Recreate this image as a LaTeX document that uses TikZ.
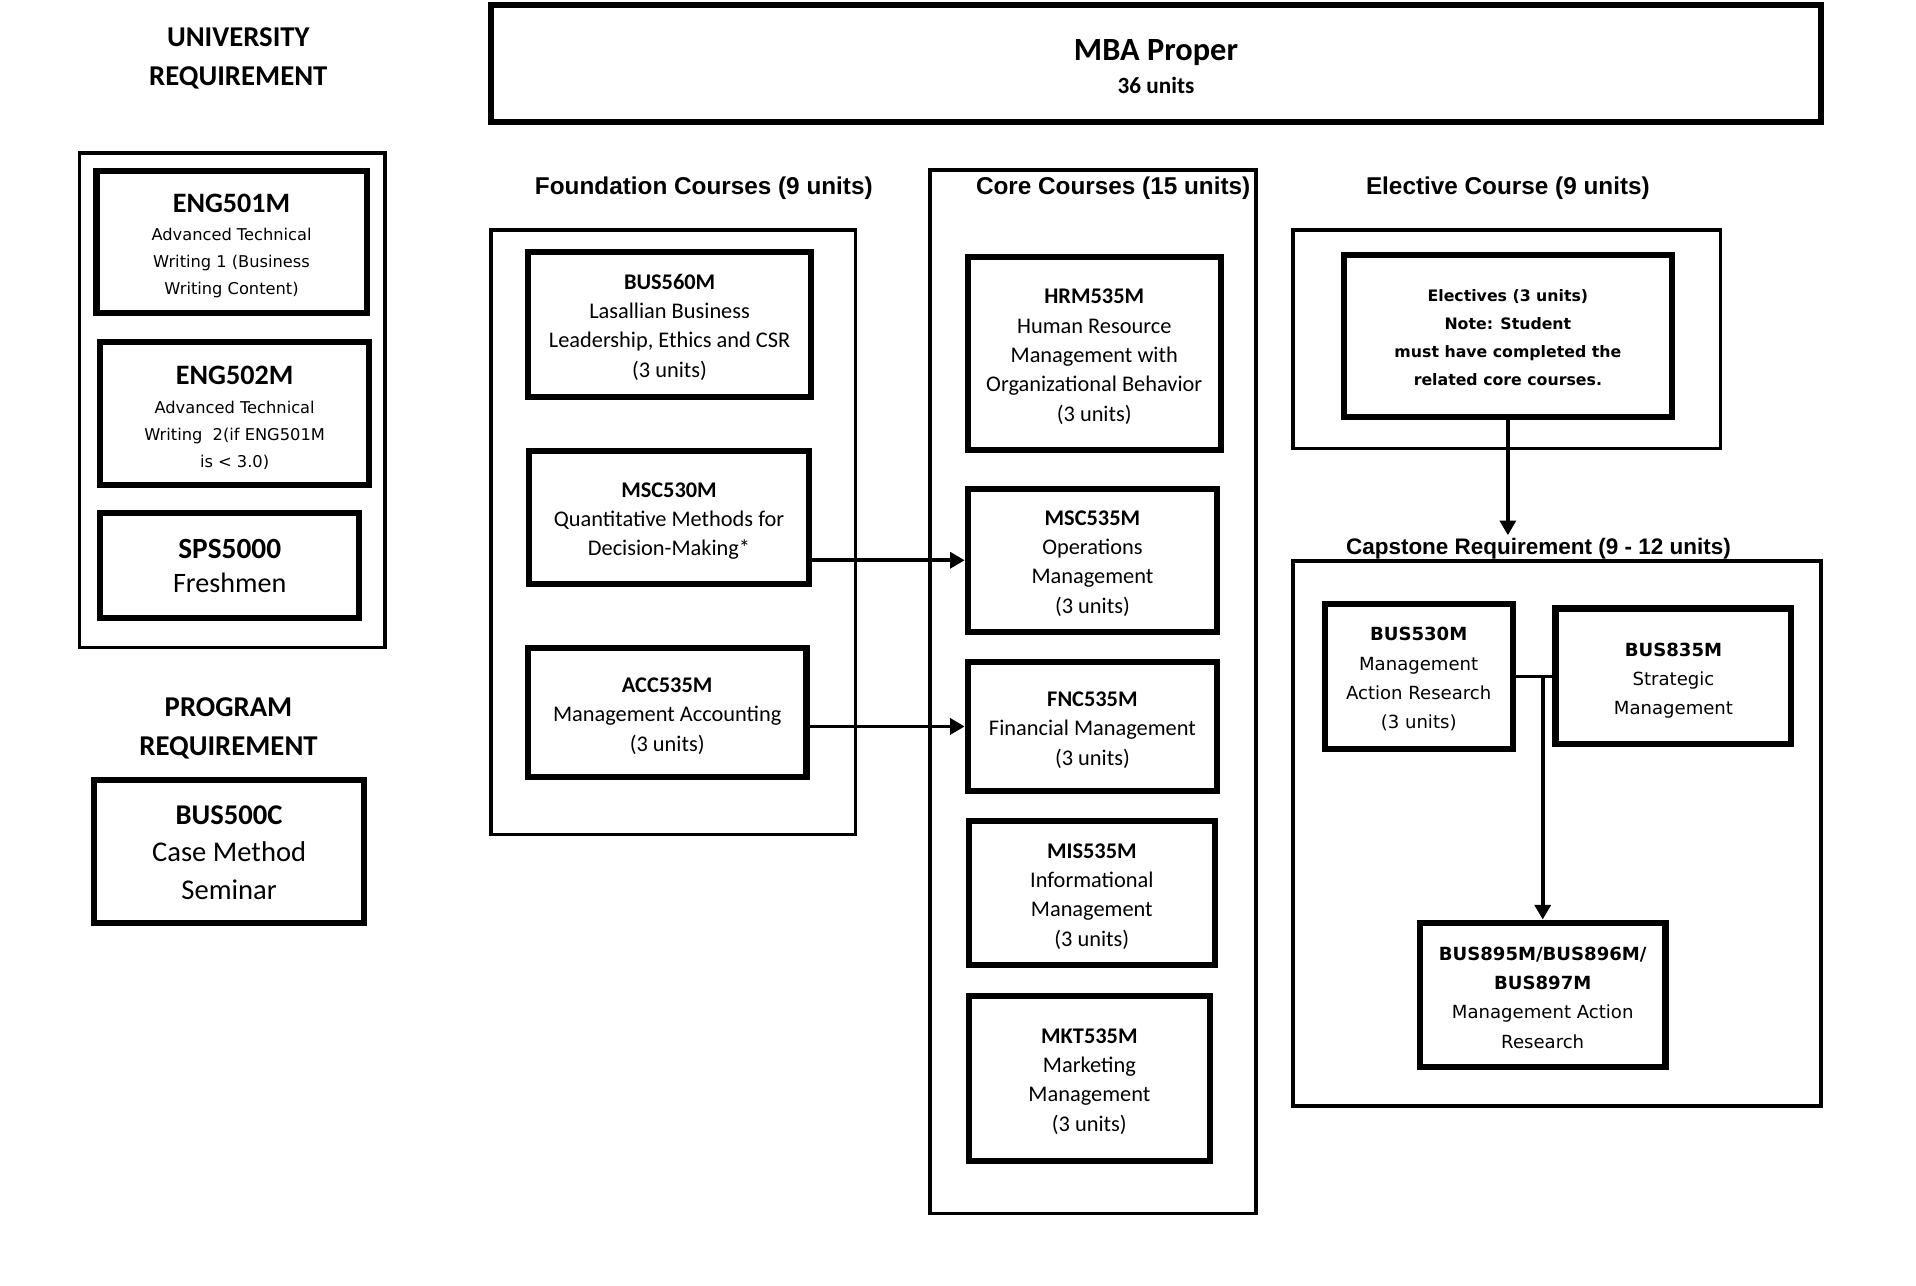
\documentclass[tikz,border=0pt]{standalone}
\usepackage{fontspec}
\setmainfont{Carlito}
\newfontfamily\arialfont{Liberation Sans}
\newfontfamily\verdfont{DejaVu Sans}
\usetikzlibrary{arrows.meta}
\tikzset{>={Triangle[length=12pt,width=13pt]}}
\newcommand\bigcode{\normalfont\bfseries\fontsize{23}{26}\selectfont}
\newcommand\lift[1]{\rule{0pt}{#1}}

\begin{document}
\begin{tikzpicture}[x=1pt,y=-1pt,
  group/.style={draw,line width=3pt},
  course/.style={draw,line width=5pt,align=center,inner sep=0pt,font=\fontsize{18.3}{24}\selectfont},
  wide/.style={font=\verdfont\fontsize{14.8}{24}\selectfont},
  head/.style={font=\arialfont\bfseries\fontsize{19.9}{24}\selectfont},
  req/.style={align=center,font=\bfseries\fontsize{23.5}{32}\selectfont},
  link/.style={->,line width=3pt}]

\fill[white] (0,0) rectangle (1568,1052);
\useasboundingbox (0,0) rectangle (1568,1052);

% ============ left column: university and program ============
\node[req] (unihead) at (195,48) {UNIVERSITY\\REQUIREMENT};
\draw[group] (65,125) rectangle (315,530);
\node[course,minimum width=221pt,minimum height=116pt,font=\verdfont\fontsize{13.3}{22}\selectfont] (eng501) at (189.5,198)
  {{\bigcode\lift{21pt}ENG501M}\\[1pt]Advanced Technical\\Writing 1 (Business\\Writing Content)};
\node[course,minimum width=220pt,minimum height=117pt,font=\verdfont\fontsize{13.3}{22}\selectfont] (eng502) at (192,338.5)
  {{\bigcode\lift{22pt}ENG502M}\\[2pt]Advanced Technical\\Writing~ 2(if ENG501M\\is < 3.0)};
\node[course,minimum width=212pt,minimum height=86pt,font=\fontsize{23}{28}\selectfont] (sps5000) at (188,463)
  {{\bfseries\fontsize{24}{28}\selectfont SPS5000}\\Freshmen};

\node[req] (proghead) at (187,596) {PROGRAM\\REQUIREMENT};
\node[course,minimum width=221pt,minimum height=117pt,font=\fontsize{23.4}{31}\selectfont] (bus500) at (187.5,696.5)
  {{\bfseries\lift{18pt}BUS500C}\\Case Method\\Seminar};

% ============ MBA proper ============
\node[draw,line width=5pt,minimum width=1088pt,minimum height=96pt,align=center,
  font=\bfseries\fontsize{19}{30}\selectfont] (mba) at (946,52)
  {{\fontsize{26.5}{30}\selectfont\lift{22pt}MBA Proper}\\[-3pt]36 units};

% ============ foundation ============
\node[head] (foundhead) at (576,154) {Foundation Courses (9 units)};
\draw[group] (402,188) rectangle (700,683);
\node[course,minimum width=232pt,minimum height=119pt] (bus560) at (548,265.5)
  {{\bfseries\lift{17pt}BUS560M}\\Lasallian Business\\Leadership, Ethics and CSR\\(3 units)};
\node[course,minimum width=229pt,minimum height=109pt] (msc530) at (547.5,423.5)
  {{\bfseries\lift{18pt}MSC530M}\\Quantitative Methods for\\Decision-Making*};
\node[course,minimum width=228pt,minimum height=106pt] (acc535) at (546,583)
  {{\bfseries\lift{18pt}ACC535M}\\Management Accounting\\(3 units)};

% ============ core ============
\draw[group] (761,139) rectangle (1028,993);
\node[head] (corehead) at (911,154) {Core Courses (15 units)};
\node[course,minimum width=207pt,minimum height=158pt] (hrm535) at (895.5,289)
  {{\bfseries\lift{18pt}HRM535M}\\Human Resource\\Management with\\Organizational Behavior\\(3 units)};
\node[course,minimum width=204pt,minimum height=117pt] (msc535) at (894,458.5)
  {{\bfseries\lift{17pt}MSC535M}\\Operations\\Management\\(3 units)};
\node[course,minimum width=204pt,minimum height=105pt] (fnc535) at (894,594.5)
  {{\bfseries\lift{18pt}FNC535M}\\Financial Management\\(3 units)};
\node[course,minimum width=201pt,minimum height=118pt] (mis535) at (893.5,731)
  {{\bfseries\lift{17pt}MIS535M}\\Informational\\Management\\(3 units)};
\node[course,minimum width=197pt,minimum height=135pt] (mkt535) at (891.5,882.5)
  {{\bfseries\lift{17pt}MKT535M}\\Marketing\\Management\\(3 units)};

\draw[link] (msc530.east |- msc535.west) -- (msc535.west);
\draw[link] (acc535.east |- fnc535.west) -- (fnc535.west);

% ============ elective ============
\node[head] (electhead) at (1234,154) {Elective Course (9 units)};
\draw[group] (1058,188) rectangle (1408,367);
\node[course,minimum width=268pt,minimum height=132pt,font=\verdfont\bfseries\fontsize{12.9}{23}\selectfont] (elect) at (1234,275)
  {\lift{12pt}Electives (3 units)\\Note: Student\\must have completed the\\related core courses.};
\coordinate (capin) at (1234,438);
\draw[link] (elect.south) -- (capin);

% ============ capstone ============
\node[head,font=\arialfont\bfseries\fontsize{18.4}{24}\selectfont] (caphead) at (1259,449) {Capstone Requirement (9 - 12 units)};
\draw[group] (1058,459) rectangle (1490,905);
\node[course,wide,minimum width=154pt,minimum height=119pt] (bus530) at (1161,553.5)
  {{\bfseries\lift{16pt}BUS530M}\\Management\\Action Research\\(3 units)};
\node[course,wide,minimum width=193pt,minimum height=111pt] (bus835) at (1369.5,553.5)
  {{\bfseries\lift{18pt}BUS835M}\\Strategic\\Management};
\node[course,wide,minimum width=201pt,minimum height=118pt] (bus895) at (1262.5,814)
  {{\bfseries\lift{16pt}BUS895M/BUS896M/}\\{\bfseries BUS897M}\\Management Action\\Research};

\draw[line width=3pt] (bus530.east) -- (bus835.west);
\draw[link] (bus530.east -| bus895.north) -- (bus895.north);

\end{tikzpicture}
\end{document}
